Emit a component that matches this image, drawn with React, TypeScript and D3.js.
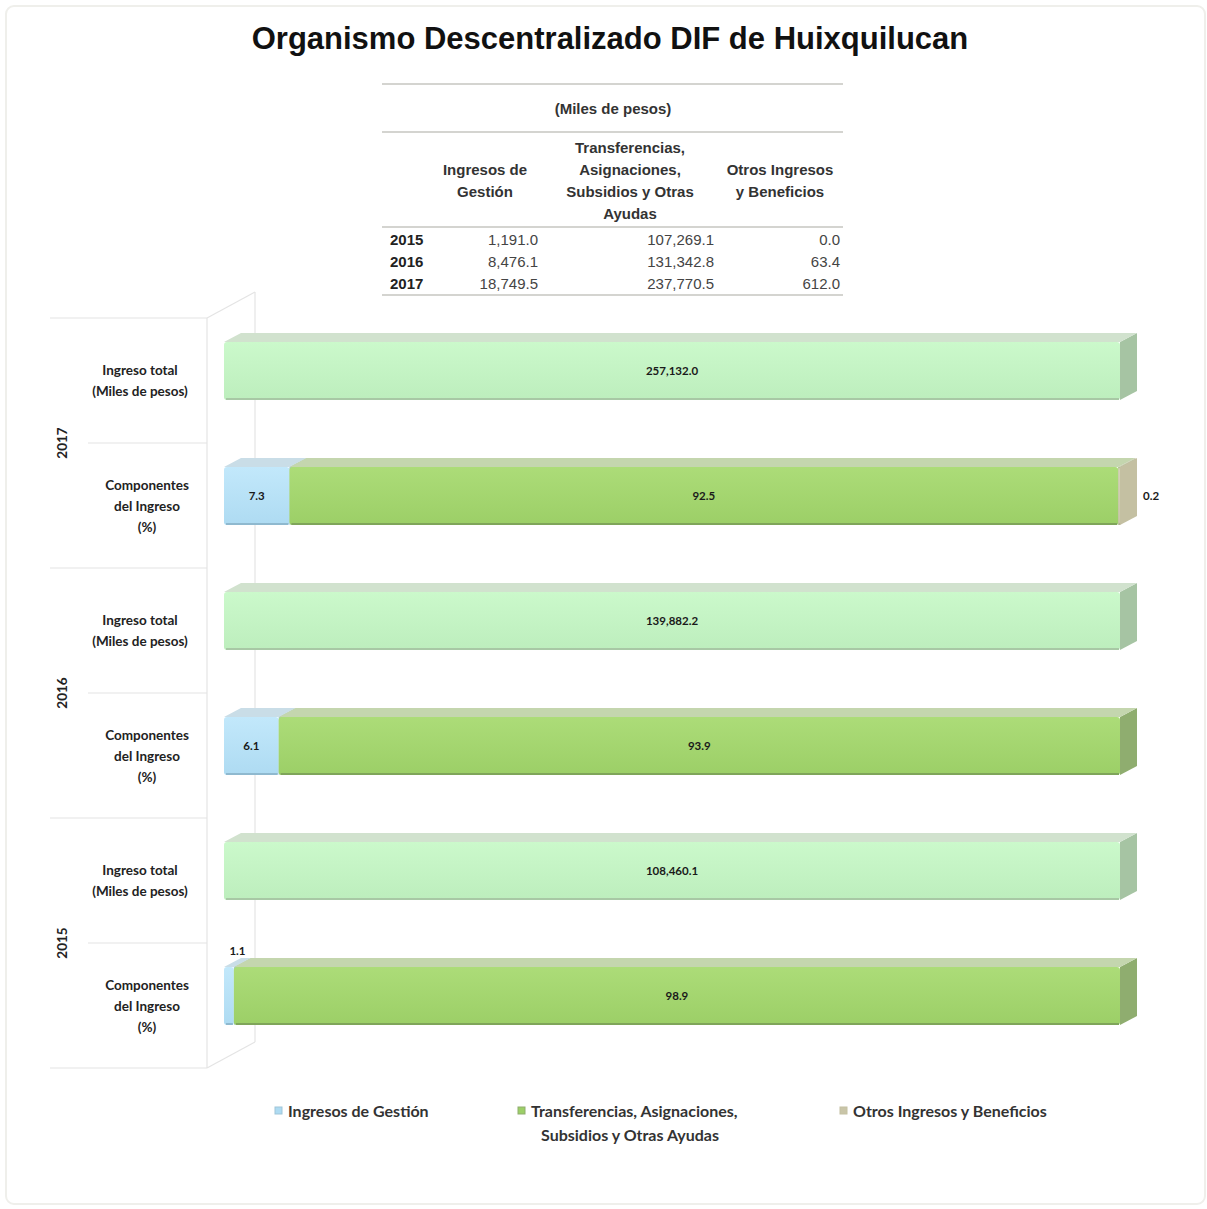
import * as d3 from "d3";

// table (Miles de pesos)
const tableYears = ["2015", "2016", "2017"];
const ingresosGestion = [1191.0, 8476.1, 18749.5];
const transferencias = [107269.1, 131342.8, 237770.5];
const otrosIngresos = [0.0, 63.4, 612.0];

// chart, top to bottom
const chartYears = ["2017", "2016", "2015"];
const ingresoTotal = [257132.0, 139882.2, 108460.1];
const pctGestion = [7.3, 6.1, 1.1];
const pctTransfer = [92.5, 93.9, 98.9];
const pctOtros = [0.2, 0.0, 0.0];

const seriesNames = ["Ingresos de Gestión", "Transferencias, Asignaciones, Subsidios y Otras Ayudas", "Otros Ingresos y Beneficios"];

const W = 1207, H = 1209;
const DX = 17, DY = 9; // 3d depth of bars
const BAR_H = 58;

const pal = {
  total: { a: "#cbf9cb", b: "#bdeebd", top: "#d1e2ce", side: "#a6c4a3", edge: "#a8c8a5" },
  blue: { a: "#c2e8fb", b: "#aedbf2", top: "#c9dde7", side: "#9fc5d8", edge: "#8fb9cf" },
  green: { a: "#acdc78", b: "#9ccf67", top: "#c4d6ae", side: "#8fad6f", edge: "#7fa55a" },
  grey: { a: "#d6d2b8", b: "#c9c5a8", top: "#dad7c6", side: "#c4c0a2", edge: "#b5b193" },
};

const fmt = d3.format(",.1f");
const calibri = "Lato, 'Open Sans', sans-serif";
const arial = "'Liberation Sans', Arial, sans-serif";

type Seg = { v0: number; v1: number; key: keyof typeof pal; label: string; idx: number; n: number };

function Box({ x, y, s }: { x: d3.ScaleLinear<number, number>; y: number; s: Seg }) {
  const x0 = x(s.v0), x1 = x(s.v1);
  const c = pal[s.key];
  const top = `${x0},${y} ${x0 + DX},${y - DY} ${x1 + DX},${y - DY} ${x1},${y}`;
  const side = `${x1},${y} ${x1 + DX},${y - DY} ${x1 + DX},${y + BAR_H - DY} ${x1},${y + BAR_H}`;
  return (
    <g>
      <polygon points={side} fill={c.side} />
      <polygon points={top} fill={c.top} />
      <rect x={x0} y={y} width={Math.max(x1 - x0, 0.5)} height={BAR_H} rx={3} fill={`url(#g-${s.key})`} />
      <line x1={x0 + 2} x2={x1 - 1} y1={y + BAR_H - 1} y2={y + BAR_H - 1} stroke={c.edge} strokeWidth={2} />
    </g>
  );
}

function SegLabel({ x, y, s }: { x: d3.ScaleLinear<number, number>; y: number; s: Seg }) {
  const x0 = x(s.v0), x1 = x(s.v1);
  const w = x1 - x0;
  const st = { fontFamily: calibri, fontWeight: "bold" as const, fontSize: 11.5, fill: "#1a1a1a" };
  if (w >= 24) {
    return <text x={(x0 + x1) / 2} y={y + BAR_H / 2 + 4} textAnchor="middle" style={st}>{s.label}</text>;
  }
  if (s.idx === s.n - 1) {
    return <text x={x1 + DX + 6} y={y + BAR_H / 2 + 4} textAnchor="start" style={st}>{s.label}</text>;
  }
  return <text x={(x0 + x1) / 2 + DX / 2} y={y - DY - 3} textAnchor="middle" style={st}>{s.label}</text>;
}

export default function App() {
  const x = d3.scaleLinear().domain([0, 100]).range([224, 1120]);
  const rows = chartYears.flatMap((yr) => [`${yr}-total`, `${yr}-comp`]);
  const y = d3.scaleBand<string>().domain(rows).range([308.5, 1058.5]).padding(0);
  const barTop = (r: string) => (y(r) as number) + (y.bandwidth() - BAR_H) / 2;
  const back = 9.5; // projection offset of the label grid
  const wallTop = (y(rows[0]) as number) + back;
  const wallBottom = (y(rows[rows.length - 1]) as number) + y.bandwidth() + back;

  // table geometry
  const tX0 = 382, tX1 = 843;
  const colRight = [538, 714, 840];
  const colCenter = [485, 630, 780];
  const headers = [["Ingresos de", "Gestión"], ["Transferencias,", "Asignaciones,", "Subsidios y Otras", "Ayudas"], ["Otros Ingresos", "y Beneficios"]];
  const tableCols = [ingresosGestion, transferencias, otrosIngresos];

  const legend = [
    { key: "blue", x: 278, lines: ["Ingresos de Gestión"] },
    { key: "green", x: 521, lines: ["Transferencias, Asignaciones,", "Subsidios y Otras Ayudas"] },
    { key: "grey", x: 843, lines: ["Otros Ingresos y Beneficios"] },
  ] as const;

  return (
    <svg width={W} height={H} style={{ position: "absolute", left: 0, top: 0, background: "#fff" }}>
      <defs>
        {Object.entries(pal).map(([k, c]) => (
          <linearGradient key={k} id={`g-${k}`} x1="0" y1="0" x2="0" y2="1">
            <stop offset="0" stopColor={c.a} />
            <stop offset="1" stopColor={c.b} />
          </linearGradient>
        ))}
      </defs>
      <rect x={6} y={6} width={1199} height={1198} rx={8} fill="#fff" stroke="#efefeb" strokeWidth={2} />

      <text x={610} y={49} textAnchor="middle" style={{ fontFamily: arial, fontWeight: "bold", fontSize: 31, fill: "#111" }}>
        Organismo Descentralizado DIF de Huixquilucan
      </text>

      {/* table */}
      <g style={{ fontFamily: arial, fontSize: 15 }}>
        {[84, 132, 227, 295].map((ly) => (
          <line key={ly} x1={tX0} x2={tX1} y1={ly} y2={ly} stroke="#d4d4d0" strokeWidth={2} />
        ))}
        <text x={613} y={114} textAnchor="middle" style={{ fontWeight: "bold", fill: "#333" }}>(Miles de pesos)</text>
        {headers.map((lines, i) =>
          lines.map((t, j) => (
            <text key={`${i}-${j}`} x={colCenter[i]} y={(lines.length === 4 ? 153 : 175) + j * 22} textAnchor="middle" style={{ fontWeight: "bold", fill: "#333" }}>{t}</text>
          ))
        )}
        {tableYears.map((yr, r) => (
          <g key={yr}>
            <text x={390} y={245 + r * 22} style={{ fontWeight: "bold", fill: "#222" }}>{yr}</text>
            {tableCols.map((col, c) => (
              <text key={c} x={colRight[c]} y={245 + r * 22} textAnchor="end" style={{ fill: "#444" }}>{fmt(col[r])}</text>
            ))}
          </g>
        ))}
      </g>

      {/* walls */}
      <g stroke="#e4e4e4" strokeWidth={1.2} fill="none">
        <line x1={207} x2={207} y1={wallTop} y2={wallBottom} />
        <line x1={207} x2={255} y1={wallTop} y2={wallTop - 26} />
        <line x1={255} x2={255} y1={wallTop - 26} y2={wallBottom - 26} />
        <line x1={207} x2={255} y1={wallBottom} y2={wallBottom - 26} />
        {rows.map((r, i) => (
          <line key={r} x1={i % 2 === 0 ? 50 : 88} x2={207} y1={(y(r) as number) + back} y2={(y(r) as number) + back} />
        ))}
        <line x1={50} x2={207} y1={wallBottom} y2={wallBottom} />
      </g>

      {/* row labels */}
      <g style={{ fontFamily: calibri, fontWeight: "bold", fontSize: 13.5, fill: "#222" }}>
        {rows.map((r, i) => {
          const lines = i % 2 === 0 ? ["Ingreso total", "(Miles de pesos)"] : ["Componentes", "del Ingreso", "(%)"];
          const cy = (y(r) as number) + y.bandwidth() / 2 + back;
          return lines.map((t, j) => (
            <text key={`${r}-${j}`} x={i % 2 === 0 ? 140 : 147} y={cy + 5 + (j - (lines.length - 1) / 2) * 21} textAnchor="middle">{t}</text>
          ));
        })}
        {chartYears.map((yr) => {
          const cy = (y(`${yr}-comp`) as number) + back;
          return (
            <text key={yr} transform={`translate(67,${cy}) rotate(-90)`} textAnchor="middle">{yr}</text>
          );
        })}
      </g>

      {/* bars */}
      {chartYears.map((yr, i) => {
        const tTop = barTop(`${yr}-total`);
        const cTop = barTop(`${yr}-comp`);
        const totalSeg: Seg = { v0: 0, v1: (ingresoTotal[i] / ingresoTotal[i]) * 100, key: "total", label: fmt(ingresoTotal[i]), idx: 0, n: 1 };
        const vals = [pctGestion[i], pctTransfer[i], pctOtros[i]];
        const keys: (keyof typeof pal)[] = ["blue", "green", "grey"];
        let acc = 0;
        const segs: Seg[] = [];
        vals.forEach((v, k) => {
          if (v > 0) segs.push({ v0: acc, v1: acc + v, key: keys[k], label: fmt(v), idx: k, n: 0 });
          acc += v;
        });
        segs.forEach((s) => (s.n = segs.length));
        segs.forEach((s, k) => (s.idx = k));
        return (
          <g key={yr}>
            <Box x={x} y={tTop} s={totalSeg} />
            <SegLabel x={x} y={tTop} s={totalSeg} />
            {segs.map((s) => <Box key={s.key} x={x} y={cTop} s={s} />)}
            {segs.map((s) => <SegLabel key={s.key} x={x} y={cTop} s={s} />)}
          </g>
        );
      })}

      {/* legend */}
      <g style={{ fontFamily: calibri, fontWeight: "bold", fontSize: 16, fill: "#333" }}>
        {legend.map((l) => (
          <g key={l.key}>
            <rect x={l.x - 3} y={1107} width={7} height={7} fill={pal[l.key].b} stroke={pal[l.key].side} strokeWidth={1} />
            {l.lines.map((t, j) => (
              <text key={j} x={j === 0 ? l.x + 10 : 630} y={1117 + j * 24} textAnchor={j === 0 ? "start" : "middle"}>{t}</text>
            ))}
          </g>
        ))}
      </g>
      <title>{seriesNames.join(" / ")}</title>
    </svg>
  );
}
